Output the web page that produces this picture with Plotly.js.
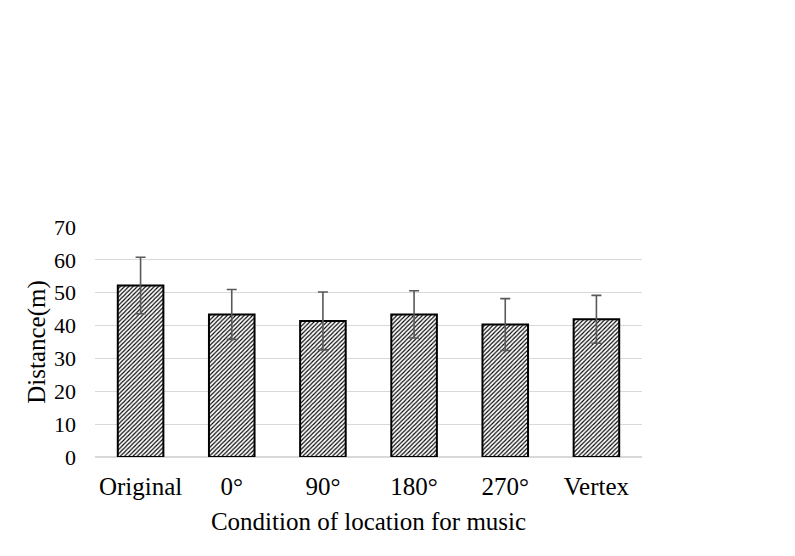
<!DOCTYPE html>
<html>
<head>
<meta charset="utf-8">
<script src="https://cdn.plot.ly/plotly-3.0.1.min.js"></script>
<style>html,body{margin:0;padding:0;background:#fff;}#chart{width:795px;height:556px;}</style>
</head>
<body>
<div id="chart"></div>
<script>
const categories = ["Original", "0°", "90°", "180°", "270°", "Vertex"];
const distances = [52.2, 43.4, 41.4, 43.4, 40.3, 41.9];
const errors = [8.6, 7.6, 8.8, 7.2, 7.9, 7.3];
const yTicks = [0, 10, 20, 30, 40, 50, 60, 70];

const font = "Liberation Serif";

Plotly.newPlot("chart", [{
  type: "bar",
  x: categories,
  y: distances,
  marker: {
    color: "white",
    line: {color: "black", width: 2},
    pattern: {shape: "/", fgcolor: "black", bgcolor: "white", size: 3, solidity: 0.38}
  },
  error_y: {type: "data", array: errors, visible: true, color: "#595959", thickness: 1.6, width: 5}
}], {
  width: 795, height: 556,
  margin: {l: 95, r: 153, t: 227, b: 99},
  paper_bgcolor: "white", plot_bgcolor: "white",
  bargap: 0.5,
  showlegend: false,
  font: {family: font, size: 22, color: "black"},
  xaxis: {
    showgrid: false, showline: false, zeroline: false, ticks: "",
    ticklabelstandoff: 12,
    tickfont: {family: font, size: 25, color: "black"},
    title: {text: "Condition of location for music", font: {family: font, size: 25, color: "black"}, standoff: 13}
  },
  yaxis: {
    range: [0, 70], tickvals: yTicks, showgrid: true, gridcolor: "#d9d9d9", gridwidth: 1,
    zeroline: true, zerolinecolor: "#d9d9d9", zerolinewidth: 1.5, showline: false, ticks: "",
    ticklabelstandoff: 18,
    tickfont: {family: font, size: 22, color: "black"},
    title: {text: "Distance(m)", font: {family: font, size: 25, color: "black"}, standoff: 1}
  }
}, {displayModeBar: false, staticPlot: true});
</script>
</body>
</html>
